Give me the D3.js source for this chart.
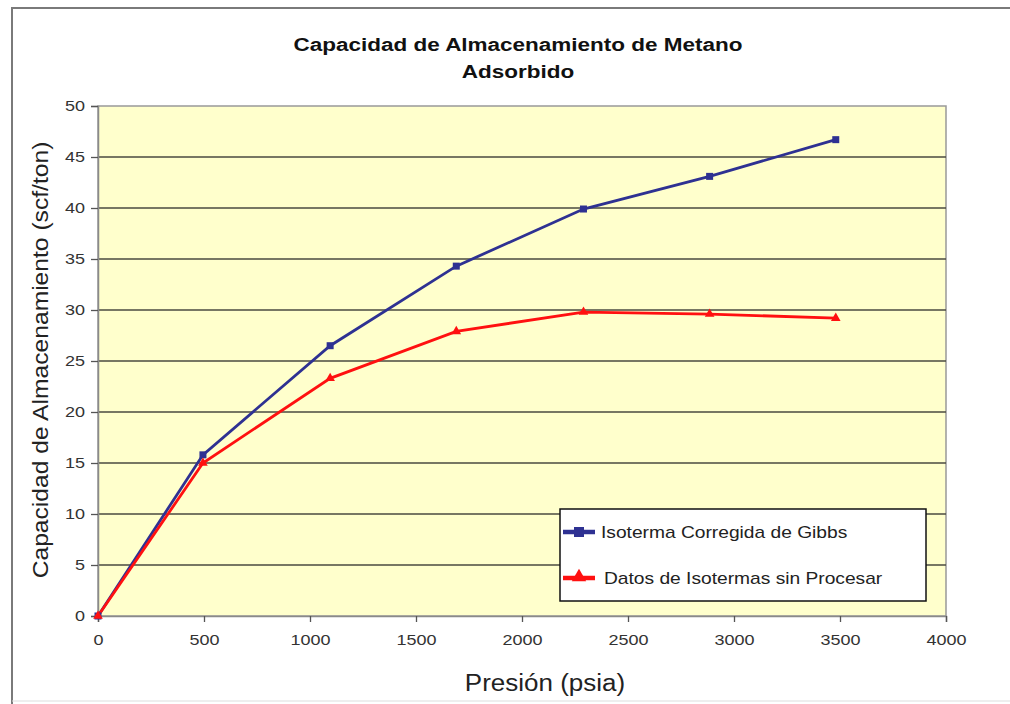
<!DOCTYPE html>
<html><head><meta charset="utf-8">
<script src="https://cdn.jsdelivr.net/npm/d3@7"></script>
<style>body{margin:0;background:#fff;}svg{display:block;}</style>
</head><body>
<svg id="c" width="1010" height="704"></svg>
<script>
const pressure = [0, 495, 1095, 1690, 2290, 2885, 3480];
const gibbs = [0, 15.8, 26.5, 34.3, 39.9, 43.1, 46.7];
const raw = [0, 15.0, 23.3, 27.9, 29.8, 29.6, 29.2];
const xTicks = [0, 500, 1000, 1500, 2000, 2500, 3000, 3500, 4000];
const yTicks = [0, 5, 10, 15, 20, 25, 30, 35, 40, 45, 50];
const seriesNames = ["Isoterma Corregida de Gibbs", "Datos de Isotermas sin Procesar"];
const titleLines = ["Capacidad de Almacenamiento de Metano", "Adsorbido"];

const svg = d3.select("#c");
const font = "'Liberation Sans', Arial, sans-serif";
// outer frame
svg.append("path").attr("d", "M12,704 L12,8 L1010,8").attr("fill","none").attr("stroke","#7a7a7a").attr("stroke-width",2);
svg.append("line").attr("x1",12).attr("x2",1010).attr("y1",701).attr("y2",701).attr("stroke","#ddd").attr("stroke-width",1);

const L=98,R=946,T=106,B=616;
const x = d3.scaleLinear().domain([0,4000]).range([L,R]);
const y = d3.scaleLinear().domain([0,50]).range([B,T]);

svg.append("rect").attr("x",L).attr("y",T).attr("width",R-L).attr("height",B-T).attr("fill","#FFFFCC").attr("stroke","#999").attr("stroke-width",1.5);

// grid
svg.append("g").selectAll("line").data(yTicks.filter(d=>d>0&&d<50)).join("line")
  .attr("x1",L).attr("x2",R).attr("y1",d=>y(d)).attr("y2",d=>y(d))
  .attr("stroke","#4a4a40").attr("stroke-width",1.6);

// stretched text helper
function stretchText(sel, sx) {
  sel.each(function(){
    const t = d3.select(this);
    const tx = +t.attr("x")||0, ty = +t.attr("y")||0;
    t.attr("x",0).attr("y",0).attr("transform",`translate(${tx},${ty}) scale(${sx},1)`);
  });
}

// axes
const ya = svg.append("g").attr("transform",`translate(${L},0)`)
  .call(d3.axisLeft(y).tickValues(yTicks).tickSize(7).tickPadding(6).tickFormat(d3.format("d")));
const xa = svg.append("g").attr("transform",`translate(0,${B})`)
  .call(d3.axisBottom(x).tickValues(xTicks).tickSize(6).tickPadding(12).tickFormat(d3.format("d")));
[ya,xa].forEach(a=>{
  a.select(".domain").attr("stroke","#8a8a8a").attr("stroke-width",1.5);
  a.selectAll(".tick line").attr("stroke","#555").attr("stroke-width",1.3);
  a.selectAll("text").attr("font-family",font).attr("font-size",15).attr("fill","#333");
});
ya.selectAll(".tick text").each(function(){
  const t=d3.select(this); const tx=+t.attr("x");
  t.attr("x",0).attr("transform",`translate(${tx},0) scale(1.2,1)`);
});
xa.selectAll(".tick text").each(function(){
  const t=d3.select(this); const ty=+t.attr("y");
  t.attr("y",0).attr("transform",`translate(0,${ty}) scale(1.2,1)`);
});

// series
const line = d3.line().x((d,i)=>x(pressure[i])).y(d=>y(d));
const blue="#2E3192", red="#FF1010";
svg.append("path").datum(gibbs).attr("d",line).attr("fill","none").attr("stroke",blue).attr("stroke-width",2.8);
svg.append("path").datum(raw).attr("d",line).attr("fill","none").attr("stroke",red).attr("stroke-width",2.8);
svg.append("g").selectAll("rect").data(gibbs).join("rect")
  .attr("x",(d,i)=>x(pressure[i])-3.5).attr("y",d=>y(d)-3.5).attr("width",7).attr("height",7).attr("fill",blue);
const tri = d3.symbol().type(d3.symbolTriangle).size(40);
svg.append("g").selectAll("path").data(raw).join("path")
  .attr("d",tri).attr("transform",(d,i)=>`translate(${x(pressure[i])},${y(d)})`).attr("fill",red);

// legend
const lg = svg.append("g");
lg.append("rect").attr("x",560).attr("y",509).attr("width",366).attr("height",92).attr("fill","#fff").attr("stroke","#111").attr("stroke-width",1.5);
const ly=[532,578], cols=[blue,red];
seriesNames.forEach((n,i)=>{
  lg.append("line").attr("x1",563).attr("x2",595).attr("y1",ly[i]).attr("y2",ly[i]).attr("stroke",cols[i]).attr("stroke-width",4.5);
  if(i===0) lg.append("rect").attr("x",574).attr("y",ly[i]-5).attr("width",10).attr("height",10).attr("fill",cols[i]);
  else lg.append("path").attr("d",d3.symbol().type(d3.symbolTriangle).size(90)).attr("transform",`translate(579,${ly[i]-1})`).attr("fill",cols[i]);
  lg.append("text").attr("x",i===0?601:604).attr("y",ly[i]).attr("dy","0.35em").attr("font-family",font).attr("font-size",16).attr("fill","#222").text(n)
    .call(stretchText,1.2);
});

// titles
svg.append("g").selectAll("text").data(titleLines).join("text")
  .attr("x",518).attr("y",(d,i)=>51+i*27).attr("text-anchor","middle")
  .attr("font-family",font).attr("font-weight","bold").attr("font-size",18).attr("fill","#111").text(d=>d)
  .call(stretchText,1.25);
svg.append("text").attr("transform","translate(48,360) rotate(-90) scale(1.12,1)").attr("text-anchor","middle")
  .attr("font-family",font).attr("font-size",22).attr("fill","#222").text("Capacidad de Almacenamiento (scf/ton)");
svg.append("text").attr("x",545).attr("y",691).attr("text-anchor","middle")
  .attr("font-family",font).attr("font-size",23).attr("fill","#222").text("Presión (psia)")
  .call(stretchText,1.13);
</script>
</body></html>
